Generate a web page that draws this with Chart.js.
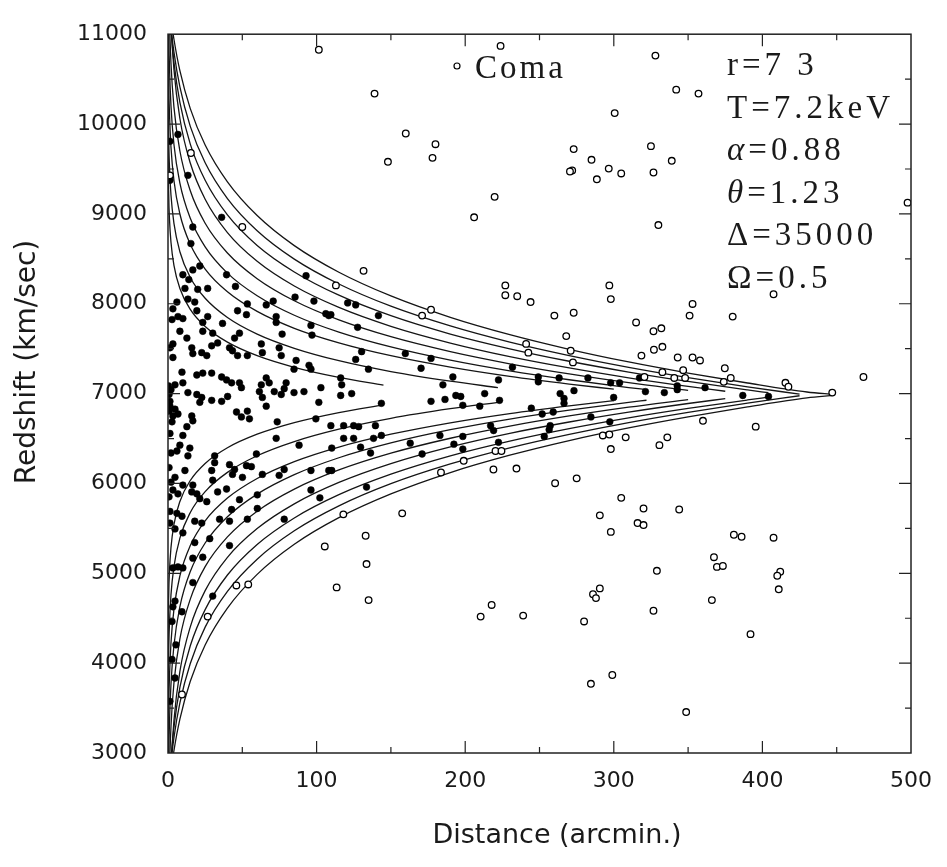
<!DOCTYPE html>
<html>
<head>
<meta charset="utf-8">
<script src="https://cdn.jsdelivr.net/npm/chart.js@4.4.1/dist/chart.umd.min.js"></script>
<style>
  html, body { margin: 0; padding: 0; background: #fff; }
  #wrap { width: 947px; height: 867px; }
</style>
</head>
<body>
<div id="wrap"><canvas id="causticChart" width="947" height="867"></canvas></div>
<script>
// Caustic curves: amplitude above/below the cluster mean, sampled on a distance grid
const causticCenter = 6985;
const causticR = [0.02, 0.1, 0.5, 1, 2, 4, 8, 15, 25, 40, 60, 85, 115, 150, 190, 230, 270, 310, 350, 390, 430];
const causticEnd = [145, 222, 300, 322, 350, 375, 404, 425, 448];
const causticAmp = [
  [3408, 2811, 2213, 1956, 1699, 1442, 1185, 952, 762, 588, 437, 308, 196, 110],
  [4320, 3588, 2856, 2540, 2225, 1910, 1594, 1308, 1076, 862, 677, 519, 381, 260, 153, 82],
  [5237, 4372, 3506, 3133, 2760, 2387, 2014, 1676, 1401, 1148, 930, 742, 580, 437, 310, 207, 121, 64],
  [6084, 5083, 4082, 3651, 3219, 2788, 2357, 1966, 1648, 1356, 1104, 887, 699, 534, 387, 268, 169, 82, 59],
  [6939, 5804, 4669, 4181, 3692, 3204, 2715, 2272, 1911, 1580, 1294, 1048, 835, 648, 482, 347, 234, 136, 51],
  [7804, 6534, 5264, 4717, 4171, 3624, 3077, 2581, 2178, 1807, 1487, 1212, 974, 764, 578, 427, 301, 191, 95, 41],
  [4650, 4616, 4464, 4305, 4054, 3701, 3255, 2792, 2389, 2004, 1664, 1369, 1110, 882, 678, 514, 375, 255, 150, 56, 25],
  [4473, 4455, 4366, 4265, 4091, 3815, 3428, 2989, 2584, 2186, 1828, 1512, 1235, 988, 768, 588, 438, 307, 193, 90, 9],
  [4487, 4473, 4409, 4330, 4191, 3959, 3609, 3187, 2782, 2372, 1997, 1662, 1366, 1102, 864, 671, 508, 367, 244, 133, 33, 5]
];

// Galaxies inside the caustics (filled)
const memberDist = [
  1.3, 6.7, 13.4, 1.3, 16.7, 36.1, 15.4, 21.4, 10.0, 16.7, 14.0, 11.4, 20.0, 26.7, 39.4, 45.4, 92.9, 85.5, 98.2, 66.1,
  70.8, 53.4, 6.0, 3.3, 13.4, 18.0, 19.4, 26.7, 6.7, 2.7, 10.0, 46.8, 52.8, 36.7, 23.4, 72.8, 72.8, 106.2, 108.2, 120.9,
  126.3, 96.2, 96.9, 8.0, 12.7, 23.4, 30.1, 48.1, 44.8, 76.8, 3.3, 16.0, 29.4, 33.4, 41.4, 62.8, 74.8, 127.6, 141.6, 109.6,
  16.7, 22.7, 26.1, 43.4, 46.8, 53.4, 63.5, 76.2, 86.2, 84.8, 94.9, 96.2, 1.3, 3.3, 9.4, 19.4, 23.4, 29.4, 36.1, 39.4,
  42.8, 48.1, 49.4, 66.1, 68.1, 62.8, 79.5, 78.2, 61.5, 63.5, 66.1, 71.5, 76.2, 84.8, 91.5, 102.9, 116.2, 116.9, 123.6, 101.5,
  73.5, 99.5, 109.6, 118.2, 124.9, 0.3, 4.7, 10.0, 13.4, 19.4, 21.4, 22.7, 29.4, 36.1, 40.1, 1.3, 4.7, 6.7, 3.3, 16.0,
  16.7, 46.1, 49.4, 53.4, 54.8, 130.3, 126.3, 159.7, 177, 134.9, 170.3, 191.7, 185, 116.2, 143.6, 177, 186.4, 193.7, 197, 198.4,
  209.8, 213.1, 223.1, 222.4, 231.8, 249.2, 249.2, 263.2, 282.6, 297.9, 303.9, 263.9, 273.2, 266.5, 266.5, 299.9, 244.5, 251.8, 259.2, 284.6,
  297.3, 128.3, 139.6, 143.6, 138.3, 124.9, 110.2, 129.6, 136.3, 163, 171, 183, 192.4, 198.4, 198.4, 217.1, 219.1, 222.4, 257.2, 256.5,
  253.2, 110.2, 317.3, 321.3, 334, 342.7, 342.7, 361.4, 386.8, 404.1, 133.6, 12.7, 10.0, 8.0, 6.0, 14.7, 13.4, 31.4, 31.4, 59.5,
  72.8, 88.2, 118.2, 41.4, 44.8, 43.4, 52.8, 56.1, 63.5, 29.4, 30.1, 4.7, 11.4, 10.0, 16.7, 16.0, 19.4, 21.4, 26.1, 3.3,
  6.7, 33.4, 39.4, 50.1, 74.8, 78.2, 96.2, 108.2, 96.2, 102.2, 60.1, 48.1, 42.8, 60.1, 78.2, 53.4, 34.7, 41.4, 18.0, 22.7,
  6.0, 9.4, 4.7, 1.3, 3.3, 6.7, 10.0, 16.7, 30.1, 4.7, 3.3, 9.4, 2.7, 41.4, 16.7, 23.4, 28.1, 10.0, 5.3, 2.7,
  4.7, 1.3, 18.0, 0.7, 1.3, 2.0, 0.7, 2.7, 1.3, 2.0, 0.7, 2.0, 0.7, 1.3
];
const memberVel = [
  9808, 9884, 9429, 9374, 8854, 8962, 8670, 8420, 8323, 8377, 8269, 8171, 8160, 8171, 8323, 8193, 8312, 8074, 8030, 7987,
  8030, 7998, 8019, 7944, 8052, 8019, 7922, 7857, 7857, 7824, 7835, 7922, 7878, 7781, 7792, 7857, 7792, 7889, 7868, 8009,
  7987, 7759, 7651, 7694, 7618, 7694, 7673, 7673, 7618, 7662, 7553, 7510, 7532, 7564, 7510, 7553, 7510, 7738, 7868, 7878,
  7445, 7456, 7423, 7477, 7423, 7423, 7456, 7423, 7369, 7272, 7315, 7272, 7510, 7402, 7239, 7207, 7228, 7228, 7185, 7152,
  7120, 7120, 7066, 7174, 7120, 7098, 7120, 7055, 7022, 6957, 6860, 7022, 6990, 7011, 7022, 7066, 7174, 7098, 7000, 6903,
  6686, 6719, 6643, 6643, 6643, 7087, 7098, 7120, 7011, 6990, 6903, 6957, 6925, 6914, 6968, 6860, 6827, 6773, 6751, 6751,
  6697, 6795, 6740, 6805, 6719, 7467, 7380, 7445, 7391, 7272, 7282, 7185, 7098, 6979, 6892, 6914, 6935, 6979, 6968, 6870,
  6860, 7000, 6925, 7152, 7293, 7185, 7131, 7174, 7174, 7120, 7120, 7000, 7033, 6946, 6892, 6957, 6838, 6773, 6795, 6740,
  6686, 6632, 6643, 6534, 6502, 6502, 6394, 6404, 6339, 6448, 6328, 6534, 6437, 6523, 6383, 6643, 6589, 6458, 6643, 6599,
  6523, 6144, 7174, 7022, 7011, 7087, 7044, 7066, 6979, 6968, 5960, 6632, 6534, 6426, 6361, 6394, 6307, 6307, 6231, 6328,
  6502, 6426, 6502, 6209, 6155, 6101, 6198, 6187, 6101, 6144, 6036, 6068, 6144, 5982, 5982, 5906, 5884, 5830, 5797, 5927,
  5884, 5906, 5938, 6068, 6090, 6155, 6144, 6144, 5927, 5840, 5873, 5819, 5710, 5721, 5602, 5602, 5602, 5580, 5580, 5559,
  5667, 5635, 5494, 5559, 5060, 5071, 5060, 4897, 4746, 4691, 4627, 4572, 4464, 5309, 5168, 5179, 5385, 5450, 4204, 4041,
  3835, 3575, 5342, 6990, 6914, 7044, 6805, 6686, 6556, 6339, 6177, 6014, 5851, 5689
];

// Galaxies outside the caustics (open)
const fieldDist = [
  101.5, 223.8, 328, 139, 342, 357, 300.6, 160, 180, 178, 148, 15.4, 1.3, 273, 325, 285, 272, 270.5, 296.6, 288.6,
  305, 326.7, 339, 219.8, 206, 330, 497.7, 50, 131.6, 113, 177, 171, 227, 227, 235, 244, 297, 298, 353, 351,
  380, 407.5, 260, 273, 315, 268, 326.7, 332, 241, 242.5, 271, 272.5, 327, 332.7, 318.6, 343, 353, 358, 374.7, 332.7,
  346.7, 468, 415.5, 417.5, 320.6, 340.7, 348, 378.7, 447, 360, 395.5, 292.6, 297, 308, 298, 330.7, 336, 220.4, 224.4, 199,
  219, 234.5, 260.5, 275, 305, 290.6, 320, 344, 316, 320, 298, 380.8, 386, 407.5, 367.4, 369.4, 373.4, 412, 410, 411,
  329, 290.6, 286, 288, 366, 326.7, 217.8, 210.4, 239, 280, 392, 299, 284.6, 348.7, 183.7, 118, 157.6, 133, 105.5, 133.6,
  113.5, 135, 46, 54, 26.7, 9.4, 374
];
const fieldVel = [
  10827, 10870, 10762, 10339, 10383, 10339, 10122, 9895, 9776, 9624, 9580, 9678, 9429, 9721, 9754, 9602, 9483, 9472, 9504, 9385,
  9450, 9461, 9591, 9190, 8962, 8876, 9125, 8854, 8366, 8204, 7933, 7868, 8204, 8095, 8084, 8019, 8204, 8052, 7998, 7868,
  7857, 8106, 7868, 7900, 7792, 7640, 7694, 7727, 7553, 7456, 7477, 7347, 7488, 7521, 7423, 7402, 7402, 7369, 7282, 7239,
  7261, 7185, 7120, 7076, 7185, 7174, 7174, 7174, 7011, 6697, 6632, 6534, 6545, 6513, 6383, 6426, 6513, 6361, 6361, 6252,
  6155, 6166, 6003, 6057, 5840, 5645, 5721, 5710, 5559, 5537, 5461, 5429, 5407, 5396, 5179, 5071, 5082, 5017, 4973, 4822,
  5028, 4832, 4767, 4724, 4702, 4583, 4648, 4518, 4529, 4464, 4323, 3868, 3770, 3456, 6122, 5656, 5667, 5418, 5299, 5103,
  4843, 4702, 4865, 4876, 4518, 3651, 7131
];

const clusterName = 'Coma';
const paramSymbols = ['r', 'T', 'α', 'θ', 'Δ', 'Ω'];
const paramItalic = [false, false, true, true, false, false];
const paramValues = ['7 3', '7.2keV', '0.88', '1.23', '35000', '0.5'];

// build datasets
const datasets = [];
causticAmp.forEach((amp, i) => {
  const end = causticEnd[i];
  const rs = causticR.filter(r => r < end).concat([end]);
  const upper = rs.map((r, j) => ({ x: r, y: causticCenter + amp[j] }));
  const lower = rs.map((r, j) => ({ x: r, y: causticCenter - amp[j] }));
  [upper, lower].forEach(pts => datasets.push({
    data: pts,
    showLine: true,
    borderColor: '#151515',
    borderWidth: 1.3,
    pointRadius: 0,
    cubicInterpolationMode: 'monotone',
    order: 3
  }));
});

datasets.push({
  data: memberDist.map((r, i) => ({ x: r, y: memberVel[i] })),
  pointRadius: 3.4,
  pointBackgroundColor: '#000',
  pointBorderColor: '#000',
  pointBorderWidth: 0.5,
  order: 2
});
datasets.push({
  data: fieldDist.map((r, i) => ({ x: r, y: fieldVel[i] })),
  pointRadius: 3.3,
  pointBackgroundColor: '#fff',
  pointBorderColor: '#000',
  pointBorderWidth: 1.3,
  order: 1
});

// frame with inward ticks on all four sides
const frameTicks = {
  id: 'frameTicks',
  afterDatasetsDraw(chart) {
    const { ctx, chartArea: a, scales: { x, y } } = chart;
    ctx.save();
    ctx.strokeStyle = '#222';
    ctx.lineWidth = 1.5;
    ctx.strokeRect(a.left, a.top, a.right - a.left, a.bottom - a.top);
    ctx.lineWidth = 1.2;
    ctx.beginPath();
    for (let v = 50; v < 500; v += 50) {
      const px = x.getPixelForValue(v);
      const len = v % 100 === 0 ? 12 : 6;
      ctx.moveTo(px, a.bottom); ctx.lineTo(px, a.bottom - len);
      ctx.moveTo(px, a.top); ctx.lineTo(px, a.top + len);
    }
    for (let v = 3500; v < 11000; v += 500) {
      const py = y.getPixelForValue(v);
      const len = v % 1000 === 0 ? 12 : 6;
      ctx.moveTo(a.left, py); ctx.lineTo(a.left + len, py);
      ctx.moveTo(a.right, py); ctx.lineTo(a.right - len, py);
    }
    ctx.stroke();
    ctx.restore();
  }
};

// titles and the in-plot labels
const textLayer = {
  id: 'textLayer',
  afterDraw(chart) {
    const ctx = chart.ctx;
    ctx.save();
    ctx.fillStyle = '#1a1a1a';

    ctx.font = '27px "DejaVu Sans"';
    ctx.textAlign = 'center';
    ctx.textBaseline = 'middle';
    ctx.fillText('Distance (arcmin.)', 557, 836);

    ctx.save();
    ctx.translate(28, 362);
    ctx.rotate(-Math.PI / 2);
    ctx.font = '28px "DejaVu Sans"';
    ctx.fillText('Redshift (km/sec)', 0, 0);
    ctx.restore();

    ctx.textAlign = 'left';
    ctx.textBaseline = 'alphabetic';
    ctx.strokeStyle = '#000';
    ctx.lineWidth = 1.2;
    ctx.beginPath();
    ctx.arc(457, 66, 3, 0, Math.PI * 2);
    ctx.stroke();
    ctx.letterSpacing = '3px';
    ctx.font = '33px "Liberation Serif"';
    ctx.fillText(clusterName, 475, 78);

    ctx.letterSpacing = '4px';
    paramSymbols.forEach((s, i) => {
      const base = 75 + i * 42.6;
      ctx.font = (paramItalic[i] ? 'italic ' : '') + '33px "Liberation Serif"';
      ctx.fillText(s, 727, base);
      const w = ctx.measureText(s).width;
      ctx.font = '33px "Liberation Serif"';
      ctx.fillText('=' + paramValues[i], 727 + w, base);
    });
    ctx.restore();
  }
};

const tickFont = { family: 'DejaVu Sans', size: 22 };

new Chart(document.getElementById('causticChart').getContext('2d'), {
  type: 'scatter',
  data: { datasets },
  options: {
    responsive: false,
    animation: false,
    layout: { padding: { left: 0, right: 30, top: 15, bottom: 0 } },
    plugins: {
      legend: { display: false },
      tooltip: { enabled: false }
    },
    scales: {
      x: {
        type: 'linear',
        min: 0,
        max: 500,
        afterFit(s) { s.height = 114; },
        grid: { display: false, drawTicks: false },
        border: { display: false },
        ticks: { stepSize: 100, padding: 15, color: '#1a1a1a', font: tickFont, maxRotation: 0,
                 callback: v => String(v) }
      },
      y: {
        min: 3000,
        max: 11000,
        afterFit(s) { s.width = 168; },
        grid: { display: false, drawTicks: false },
        border: { display: false },
        ticks: { stepSize: 1000, padding: 21, color: '#1a1a1a', font: tickFont,
                 callback: v => String(v) }
      }
    }
  },
  plugins: [frameTicks, textLayer]
});
</script>
</body>
</html>
